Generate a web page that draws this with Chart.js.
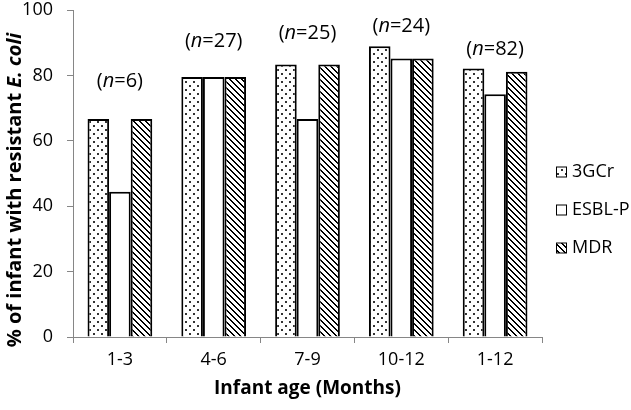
<!DOCTYPE html>
<html>
<head>
<meta charset="utf-8">
<script src="https://cdn.jsdelivr.net/npm/chart.js@4.4.1/dist/chart.umd.min.js"></script>
<style>
  html, body { margin: 0; padding: 0; background: #ffffff; }
  #wrap { width: 631px; height: 410px; position: relative; }
</style>
</head>
<body>
<div id="wrap"><canvas id="c" width="631" height="410"></canvas></div>
<script>
// ---- data ----
const categories = ['1-3', '4-6', '7-9', '10-12', '1-12'];
const seriesNames = ['3GCr', 'ESBL-P', 'MDR'];
const values3GCr = [66.7, 79.5, 83.3, 88.9, 82.1];
const valuesESBL = [44.4, 79.5, 66.7, 85.2, 74.2];
const valuesMDR  = [66.7, 79.5, 83.3, 85.2, 81.1];
const nLabels = ['6', '27', '25', '24', '82'];
const nLabelY = [78.1, 90.4, 92.9, 95.1, 87.9];
const yTicks = [0, 20, 40, 60, 80, 100];

const FONT = '"Open Sans", "DejaVu Sans", sans-serif';

function makePattern(kind) {
  const N = kind === 'dots' ? 8 : 6;
  const cv = document.createElement('canvas');
  cv.width = N; cv.height = N;
  const g = cv.getContext('2d');
  g.fillStyle = '#ffffff';
  g.fillRect(0, 0, N, N);
  if (kind === 'dots') {
    g.fillStyle = '#333333';
    g.fillRect(1, 1, 2, 2);
    g.fillRect(5, 5, 2, 2);
  } else {
    g.fillStyle = '#000000';
    for (let y = 0; y < N; y++) {
      for (let k = 0; k < 2; k++) {
        g.fillRect((y + k) % N, y, 1, 1);
      }
    }
  }
  return g.createPattern(cv, 'repeat');
}
const dotPat = makePattern('dots');
const diagPat = makePattern('diag');
const fills = [dotPat, '#ffffff', diagPat];

const annotPlugin = {
  id: 'nAnnot',
  afterDatasetsDraw(chart) {
    const ctx = chart.ctx;
    const xs = chart.scales.x, ys = chart.scales.y;
    ctx.save();
    ctx.fillStyle = '#000';
    ctx.textBaseline = 'middle';
    ctx.textAlign = 'left';
    const nf = '20px ' + FONT;
    const itf = 'italic 20px ' + FONT;
    categories.forEach((c, i) => {
      const parts = [['(', nf], ['n', itf], ['=' + nLabels[i] + ')', nf]];
      let w = 0;
      parts.forEach(p => { ctx.font = p[1]; w += ctx.measureText(p[0]).width; });
      let x = xs.getPixelForValue(i) - w / 2;
      const y = ys.getPixelForValue(nLabelY[i]);
      parts.forEach(p => { ctx.font = p[1]; ctx.fillText(p[0], x, y); x += ctx.measureText(p[0]).width; });
    });
    ctx.restore();
  }
};

const yTitlePlugin = {
  id: 'yTitle',
  afterDraw(chart) {
    const ctx = chart.ctx;
    ctx.save();
    ctx.translate(15, 190);
    ctx.rotate(-Math.PI / 2);
    ctx.fillStyle = '#000';
    ctx.textBaseline = 'middle';
    ctx.textAlign = 'left';
    const parts = [['% of infant with resistant ', 'bold 20px ' + FONT], ['E. coli', 'italic bold 20px ' + FONT]];
    let w = 0;
    parts.forEach(p => { ctx.font = p[1]; w += ctx.measureText(p[0]).width; });
    let x = -w / 2;
    parts.forEach(p => { ctx.font = p[1]; ctx.fillText(p[0], x, 0); x += ctx.measureText(p[0]).width; });
    ctx.restore();
  }
};

const legendPlugin = {
  id: 'customLegend',
  afterDraw(chart) {
    const ctx = chart.ctx;
    const ys = [172, 210, 248];
    ctx.save();
    chart.data.datasets.forEach((ds, i) => {
      const bx = 556.5, by = ys[i] - 5;
      ctx.fillStyle = ds.backgroundColor;
      ctx.fillRect(bx, by, 10, 10);
      ctx.strokeStyle = '#000';
      ctx.lineWidth = 1;
      ctx.strokeRect(bx, by, 10, 10);
      ctx.fillStyle = '#000';
      ctx.font = '18px ' + FONT;
      ctx.textBaseline = 'middle';
      ctx.textAlign = 'left';
      ctx.fillText(ds.label, 572, ys[i]);
    });
    ctx.restore();
  }
};

new Chart(document.getElementById('c'), {
  type: 'bar',
  data: {
    labels: categories,
    datasets: [
      { label: seriesNames[0], data: values3GCr, backgroundColor: fills[0] },
      { label: seriesNames[1], data: valuesESBL, backgroundColor: fills[1] },
      { label: seriesNames[2], data: valuesMDR,  backgroundColor: fills[2] }
    ].map(d => Object.assign(d, { borderColor: '#000', borderWidth: 2, borderSkipped: 'bottom' }))
  },
  options: {
    responsive: false,
    animation: false,
    devicePixelRatio: 1,
    layout: { padding: { left: 0, right: 89, top: 10, bottom: 0 } },
    datasets: { bar: { categoryPercentage: 0.69, barPercentage: 1.0 } },
    plugins: { legend: { display: false }, tooltip: { enabled: false } },
    scales: {
      x: {
        grid: { display: true, drawOnChartArea: false, drawTicks: true, tickLength: 6, color: '#868686', offset: true },
        border: { display: true, color: '#868686', width: 1 },
        ticks: { color: '#000', font: { family: FONT, size: 18 }, padding: 6 },
        title: { display: true, text: 'Infant age (Months)', color: '#000', font: { family: FONT, size: 19, weight: 'bold' }, padding: { top: 0, bottom: 10 } },
        afterFit(scale) { scale.height = 73; scale.paddingLeft = 0; scale.paddingRight = 0; }
      },
      y: {
        min: 0, max: 100,
        afterBuildTicks(scale) { scale.ticks = yTicks.map(v => ({ value: v })); },
        grid: { display: true, drawOnChartArea: false, drawTicks: true, tickLength: 6, color: '#868686' },
        border: { display: true, color: '#868686', width: 1 },
        ticks: { color: '#000', font: { family: FONT, size: 18 }, padding: 14 },
        afterFit(scale) { scale.width = 73; scale.paddingTop = 0; scale.paddingBottom = 0; }
      }
    }
  },
  plugins: [annotPlugin, yTitlePlugin, legendPlugin]
});
</script>
</body>
</html>
